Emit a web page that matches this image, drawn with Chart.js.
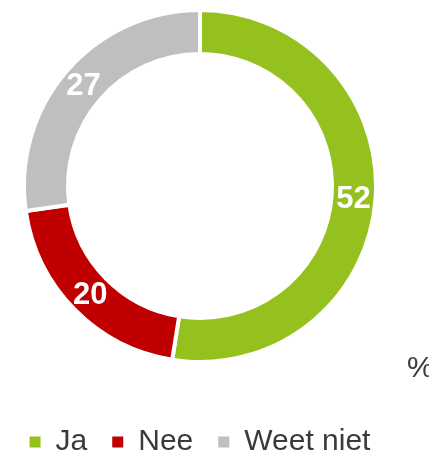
<!DOCTYPE html>
<html>
<head>
<meta charset="utf-8">
<script src="https://cdn.jsdelivr.net/npm/chart.js@4.4.0/dist/chart.umd.min.js"></script>
<style>
    body { margin: 0; background: #fff; }
    #wrap { width: 429px; height: 456px; position: relative; }
</style>
</head>
<body>
<div id="wrap"><canvas id="myChart"></canvas></div>
<script>
// data
var categories = ['Ja', 'Nee', 'Weet niet'];
var values = [52, 20, 27];
var colors = ['#95C11F', '#C00000', '#BFBFBF'];
var unitLabel = '%';

var fontFamily = '"Liberation Sans", Arial, sans-serif';
var textColor = '#3a3a3a';

// white value labels in the middle of each ring segment
var valueLabels = {
    id: 'valueLabels',
    afterDatasetsDraw: function(chart) {
        var ctx = chart.ctx;
        var meta = chart.getDatasetMeta(0);
        ctx.save();
        ctx.font = 'bold 31px ' + fontFamily;
        ctx.fillStyle = '#ffffff';
        ctx.textAlign = 'center';
        ctx.textBaseline = 'middle';
        meta.data.forEach(function(arc, i) {
            var pos = arc.tooltipPosition();
            ctx.fillText(String(values[i]), pos.x, pos.y + 1);
        });
        ctx.restore();
    },
    afterDraw: function(chart) {
        // unit sign at the right edge
        var ctx = chart.ctx;
        ctx.save();
        ctx.font = '30px ' + fontFamily;
        ctx.fillStyle = textColor;
        ctx.textAlign = 'left';
        ctx.textBaseline = 'alphabetic';
        ctx.fillText(unitLabel, 407, 377);
        ctx.restore();
    }
};

var ctx = document.getElementById('myChart').getContext('2d');
new Chart(ctx, {
    type: 'doughnut',
    data: {
        labels: categories,
        datasets: [{
            data: values,
            backgroundColor: colors,
            borderColor: '#ffffff',
            borderWidth: 4
        }]
    },
    options: {
        responsive: true,
        maintainAspectRatio: false,
        animation: false,
        cutout: '75%',
        layout: {
            padding: { top: 8, left: 0, right: 29, bottom: 0 }
        },
        plugins: {
            tooltip: { enabled: false },
            legend: {
                display: true,
                position: 'bottom',
                maxHeight: 92,
                title: {
                    display: true,
                    text: ' ',
                    font: { size: 12, lineHeight: 1 },
                    padding: { top: 26, bottom: 0 }
                },
                labels: {
                    boxWidth: 11,
                    boxHeight: 11,
                    padding: 25,
                    color: textColor,
                    font: { size: 30, family: fontFamily },
                    generateLabels: function(chart) {
                        return categories.map(function(c, i) {
                            return {
                                text: c,
                                fillStyle: colors[i],
                                strokeStyle: 'rgba(0,0,0,0)',
                                fontColor: textColor,
                                lineWidth: 0,
                                hidden: false,
                                index: i
                            };
                        });
                    }
                }
            }
        }
    },
    plugins: [valueLabels]
});
</script>
</body>
</html>
